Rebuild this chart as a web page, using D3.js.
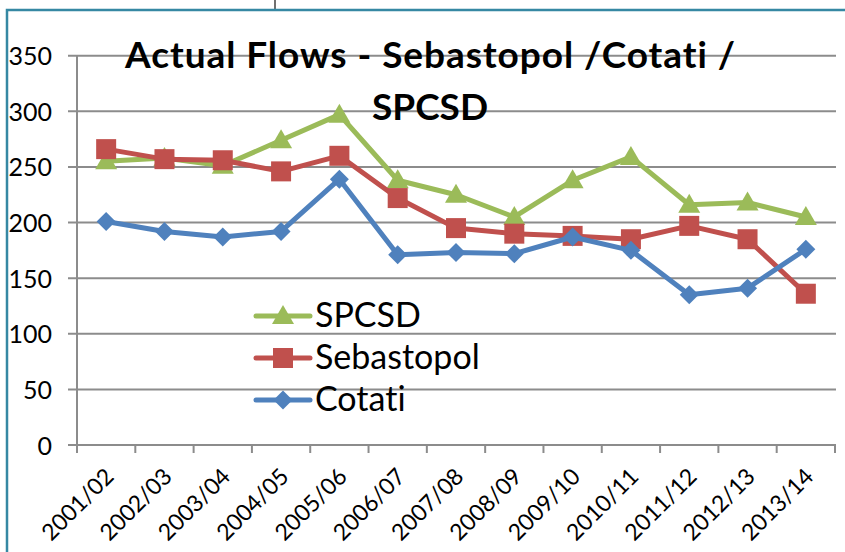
<!DOCTYPE html>
<html><head><meta charset="utf-8">
<script src="https://cdn.jsdelivr.net/npm/d3@7"></script>
<style>body{margin:0;background:#fff;} svg{display:block;font-family:Lato,"Open Sans",sans-serif;font-variant-ligatures:none;font-feature-settings:"liga" 0;}</style>
</head><body><svg id="c" width="845" height="552"></svg>
<script>
const categories = ["2001/02","2002/03","2003/04","2004/05","2005/06","2006/07","2007/08","2008/09","2009/10","2010/11","2011/12","2012/13","2013/14"];
const spcsd      = [255,258,251,274,297,238,225,205,238,259,216,218,205];
const sebastopol = [266,257,256,246,260,222,195,190,188,185,197,185,136];
const cotati     = [201,192,187,192,239,171,173,172,187,175,135,141,176];
const yTicks = [0,50,100,150,200,250,300,350];
const titleLines = ["Actual Flows - Sebastopol /Cotati /","SPCSD"];
const seriesNames = ["SPCSD","Sebastopol","Cotati"];

const series = [
  {name: seriesNames[0], values: spcsd, color: "#9BBB59", marker: "triangle"},
  {name: seriesNames[1], values: sebastopol, color: "#C0504D", marker: "square"},
  {name: seriesNames[2], values: cotati, color: "#4F81BD", marker: "diamond"}
];

const svg = d3.select("#c");
const pLeft = 77, pRight = 835, pTop = 55.7, pBottom = 445;
const x = d3.scaleBand().domain(categories).range([pLeft, pRight]).padding(0);
const y = d3.scaleLinear().domain([0, 350]).range([pBottom, pTop]);
const cx = d => x(d) + x.bandwidth() / 2;

// outer frame
svg.append("line").attr("x1", 275).attr("x2", 275).attr("y1", 0).attr("y2", 9)
  .attr("stroke", "#404040").attr("stroke-width", 1.5);
svg.append("path").attr("d", "M7,552 L7,10 L845,10").attr("fill", "none")
  .attr("stroke", "#3688A3").attr("stroke-width", 2.5);

// gridlines (with left tick)
const grid = "#8C8C8C";
svg.append("g").selectAll("line").data(yTicks).join("line")
  .attr("x1", pLeft - 9).attr("x2", pRight + 1)
  .attr("y1", d => y(d)).attr("y2", d => y(d))
  .attr("stroke", grid).attr("stroke-width", 2);

// y axis
const yAxis = d3.axisLeft(y).tickValues(yTicks).tickSize(0).tickPadding(0);
const gy = svg.append("g").attr("transform", `translate(${pLeft},0)`).call(yAxis);
gy.select(".domain").attr("stroke", grid).attr("stroke-width", 2).attr("d", `M0,${pTop}V${pBottom}`);
gy.selectAll("text").attr("x", -25).attr("dy", "0.36em")
  .attr("font-size", 25).attr("font-family", "Lato").attr("fill", "#000").attr("text-anchor", "end");

// x axis
const xAxis = d3.axisBottom(x).tickSize(0).tickFormat("");
const gx = svg.append("g").attr("transform", `translate(0,${pBottom})`).call(xAxis);
gx.select(".domain").attr("stroke", grid).attr("stroke-width", 2).attr("d", `M${pLeft},0H${pRight+1}`);
gx.selectAll(".tick").remove();
const tickPos = categories.map(c => x(c)).concat([pRight]);
gx.append("g").selectAll("line").data(tickPos).join("line")
  .attr("x1", d => d).attr("x2", d => d).attr("y1", 0).attr("y2", 8)
  .attr("stroke", grid).attr("stroke-width", 2);
svg.append("g").selectAll("text").data(categories).join("text")
  .attr("transform", d => `translate(${cx(d) + 9},478) rotate(-45)`)
  .attr("text-anchor", "end").attr("font-size", 23).attr("fill", "#000")
  .text(d => d);

// markers
function markerPath(type) {
  if (type === "triangle") return "M0,-11 L11,8 L-11,8 Z";
  if (type === "square") return "M-10,-10 H10 V10 H-10 Z";
  return "M0,-9.5 L9.5,0 L0,9.5 L-9.5,0 Z";
}

const line = d3.line().x((d, i) => cx(categories[i])).y(d => y(d));
series.forEach(s => {
  const g = svg.append("g");
  g.append("path").attr("d", line(s.values)).attr("fill", "none")
    .attr("stroke", s.color).attr("stroke-width", 5).attr("stroke-linejoin", "round").attr("stroke-linecap", "round");
  g.selectAll("path.m").data(s.values).join("path").attr("class", "m")
    .attr("d", markerPath(s.marker))
    .attr("transform", (d, i) => `translate(${cx(categories[i])},${y(d)})`)
    .attr("fill", s.color);
});

// legend
const lg = svg.append("g");
series.forEach((s, i) => {
  const yy = 316 + i * 42;
  lg.append("line").attr("x1", 256).attr("x2", 310).attr("y1", yy).attr("y2", yy)
    .attr("stroke", s.color).attr("stroke-width", 5).attr("stroke-linecap", "round");
  lg.append("path").attr("d", markerPath(s.marker)).attr("transform", `translate(283,${yy})`).attr("fill", s.color);
  lg.append("text").attr("x", 315).attr("y", yy + 11).attr("font-size", 34).attr("fill", "#000").text(s.name);
});

// title
svg.append("g").selectAll("text").data(titleLines).join("text")
  .attr("x", 430).attr("y", (d, i) => 68 + i * 52)
  .attr("text-anchor", "middle").attr("font-size", 37).attr("font-weight", "bold").attr("fill", "#000")
  .attr("textLength", (d, i) => i === 0 ? 610 : null)
  .attr("lengthAdjust", "spacing")
  .text(d => d);
</script>
</body></html>
